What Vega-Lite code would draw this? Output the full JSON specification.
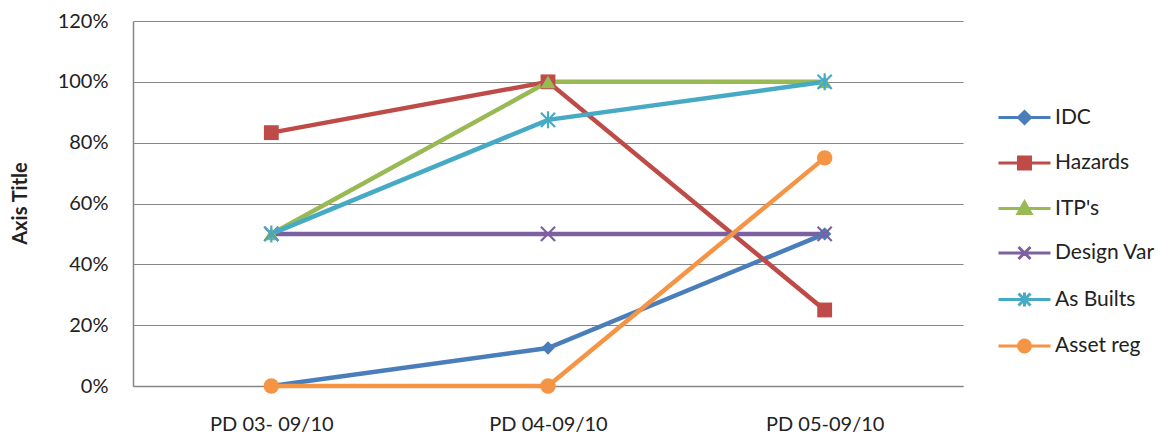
{
  "$schema": "https://vega.github.io/schema/vega-lite/v6.json",
  "autosize": {"type": "none"},
  "width": 830,
  "height": 365,
  "padding": {"left": 133, "top": 21, "right": 211, "bottom": 54},
  "background": "white",
  "config": {
    "view": {"stroke": null},
    "font": "Lato",
    "axis": {"labelFont": "Lato", "titleFont": "Lato", "labelColor": "#222222", "titleColor": "#222222"},
    "legend": {
      "orient": "none", "legendX": 881, "legendY": 86,
      "padding": 0, "rowPadding": 20.5, "symbolSize": 100, "labelFontSize": 21,
      "labelOffset": 20, "labelFont": "Lato", "labelColor": "#222222",
      "symbolStrokeWidth": 3, "symbolOpacity": 1
    }
  },
  "data": {
    "values": [
      {"period": "PD 03- 09/10", "series": "IDC", "value": 0},
      {"period": "PD 04-09/10", "series": "IDC", "value": 0.125},
      {"period": "PD 05-09/10", "series": "IDC", "value": 0.5},
      {"period": "PD 03- 09/10", "series": "Hazards", "value": 0.833},
      {"period": "PD 04-09/10", "series": "Hazards", "value": 1.0},
      {"period": "PD 05-09/10", "series": "Hazards", "value": 0.25},
      {"period": "PD 03- 09/10", "series": "ITP's", "value": 0.5},
      {"period": "PD 04-09/10", "series": "ITP's", "value": 1.0},
      {"period": "PD 05-09/10", "series": "ITP's", "value": 1.0},
      {"period": "PD 03- 09/10", "series": "Design Var", "value": 0.5},
      {"period": "PD 04-09/10", "series": "Design Var", "value": 0.5},
      {"period": "PD 05-09/10", "series": "Design Var", "value": 0.5},
      {"period": "PD 03- 09/10", "series": "As Builts", "value": 0.5},
      {"period": "PD 04-09/10", "series": "As Builts", "value": 0.875},
      {"period": "PD 05-09/10", "series": "As Builts", "value": 1.0},
      {"period": "PD 03- 09/10", "series": "Asset reg", "value": 0},
      {"period": "PD 04-09/10", "series": "Asset reg", "value": 0},
      {"period": "PD 05-09/10", "series": "Asset reg", "value": 0.75}
    ]
  },
  "encoding": {
    "x": {
      "field": "period", "type": "nominal",
      "sort": ["PD 03- 09/10", "PD 04-09/10", "PD 05-09/10"],
      "scale": {"type": "point", "padding": 0.5},
      "axis": {
        "title": null, "labelAngle": 0, "labelFontSize": 20, "labelPadding": 28,
        "ticks": false, "domainColor": "#868686", "domainWidth": 1.5, "grid": false
      }
    },
    "y": {
      "field": "value", "type": "quantitative",
      "scale": {"domain": [0, 1.2], "nice": false, "zero": true},
      "axis": {
        "title": "Axis Title", "titleFontSize": 20, "titleFontWeight": "bold",
        "titleX": -103, "titleY": 182, "titleAngle": -90,
        "values": [0, 0.2, 0.4, 0.6, 0.8, 1.0, 1.2], "format": ".0%",
        "labelFontSize": 20, "labelPadding": 25, "ticks": false,
        "domainColor": "#868686", "domainWidth": 1.5,
        "grid": true, "gridColor": "#868686", "gridWidth": 1.2
      }
    },
    "color": {
      "field": "series", "type": "nominal",
      "scale": {
        "domain": ["IDC", "Hazards", "ITP's", "Design Var", "As Builts", "Asset reg"],
        "range": ["#4A7EBB", "#BE4B48", "#98B954", "#7D60A0", "#46AAC5", "#F59445"]
      },
      "legend": {"title": null}
    }
  },
  "layer": [
    {
      "transform": [{"filter": "datum.value < 0"}],
      "mark": {"type": "point", "filled": false, "strokeWidth": 3, "opacity": 1},
      "encoding": {
        "shape": {
          "field": "series", "type": "nominal",
          "scale": {
            "domain": ["IDC", "Hazards", "ITP's", "Design Var", "As Builts", "Asset reg"],
            "range": [
              "M-5.2,0L5.2,0M-1.2,0L0,-1.2L1.2,0L0,1.2ZM-0.5,0L0,-0.5L0.5,0L0,0.5Z",
              "M-5.2,0L5.2,0M-1.2,-1.2L1.2,-1.2L1.2,1.2L-1.2,1.2ZM-0.5,-0.5L0.5,-0.5L0.5,0.5L-0.5,0.5Z",
              "M-5.2,0L5.2,0M0,-1.3L1.3,1.0L-1.3,1.0ZM0,-0.4L0.5,0.6L-0.5,0.6Z",
              "M-5.2,0L5.2,0M-1.2,-1.2L1.2,1.2M-1.2,1.2L1.2,-1.2",
              "M-5.2,0L5.2,0M-1.2,-1.2L1.2,1.2M-1.2,1.2L1.2,-1.2M0,-1.4L0,1.4",
              "M-5.2,0L5.2,0M-1.2,0A1.2,1.2,0,1,0,1.2,0A1.2,1.2,0,1,0,-1.2,0ZM-0.5,0A0.5,0.5,0,1,0,0.5,0A0.5,0.5,0,1,0,-0.5,0Z"
            ]
          },
          "legend": {"title": null}
        }
      }
    },
    {
      "mark": {"type": "line", "strokeWidth": 4.5},
      "encoding": {"detail": {"field": "series"}}
    },
    {
      "transform": [{"filter": {"field": "series", "equal": "IDC"}}],
      "mark": {"type": "point", "shape": "diamond", "filled": true, "size": 180, "opacity": 1}
    },
    {
      "transform": [{"filter": {"field": "series", "equal": "Hazards"}}],
      "mark": {"type": "point", "shape": "square", "filled": true, "size": 220, "opacity": 1}
    },
    {
      "transform": [{"filter": {"field": "series", "equal": "ITP's"}}],
      "mark": {"type": "point", "shape": "triangle-up", "filled": true, "size": 220, "opacity": 1}
    },
    {
      "transform": [{"filter": {"field": "series", "equal": "Design Var"}}],
      "mark": {"type": "point", "shape": "M-1,-1L1,1M-1,1L1,-1", "filled": false, "size": 200, "strokeWidth": 2.2, "opacity": 1}
    },
    {
      "transform": [{"filter": {"field": "series", "equal": "As Builts"}}],
      "mark": {"type": "point", "shape": "M-1,-1L1,1M-1,1L1,-1M0,-1.2L0,1.2", "filled": false, "size": 200, "strokeWidth": 2.2, "opacity": 1}
    },
    {
      "transform": [{"filter": {"field": "series", "equal": "Asset reg"}}],
      "mark": {"type": "point", "shape": "circle", "filled": true, "size": 240, "opacity": 1}
    }
  ]
}
